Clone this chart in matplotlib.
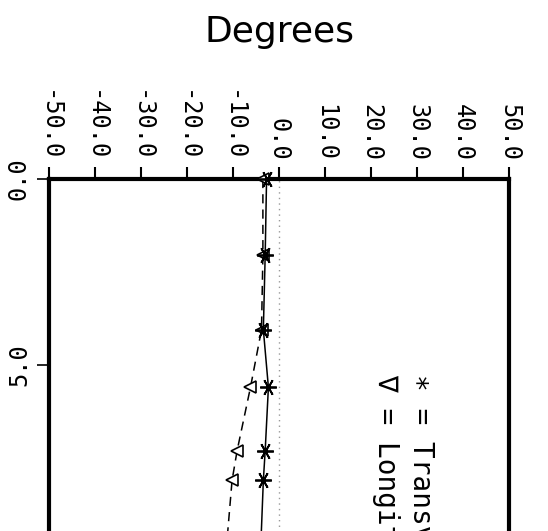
import matplotlib
matplotlib.use("Agg")
import matplotlib.pyplot as plt

# depth (plotted downward) and angle in degrees
depth = [0.0, 2.05, 4.05, 5.6, 7.3, 8.1, 10.0]
transverse = [-2.7, -3.0, -3.4, -2.3, -3.0, -3.4, -4.0]
longitudinal = [-3.5, -3.5, -3.8, -6.2, -9.1, -10.2, -11.5]

xticks = [-50, -40, -30, -20, -10, 0, 10, 20, 30, 40, 50]
xtick_labels = ["-50.0", "-40.0", "-30.0", "-20.0", "-10.0", "0.0",
                "10.0", "20.0", "30.0", "40.0", "50.0"]
yticks = [0, 5]
ytick_labels = ["0.0", "5.0"]

mono = ["DejaVu Sans Mono", "DejaVu Sans"]

fig = plt.figure(figsize=(5.48, 5.31), dpi=100)
# axes run past the bottom of the picture, like the cropped scan
ax = fig.add_axes([0.0894, -0.178, 0.8394, 0.841])

ax.axvline(0, color="#999999", lw=1.0, ls=(0, (1, 3)), zorder=1)

ax.plot(longitudinal, depth, color="black", lw=1.1, ls=(0, (6, 4)),
        marker="<", ms=8, mfc="white", mec="black", mew=1.2,
        clip_on=False, zorder=3)
ax.plot(transverse, depth, color="black", lw=1.1, ls="-",
        marker=(6, 2, 90), ms=12, mec="black", mew=1.3,
        clip_on=False, zorder=4)

ax.set_xlim(-50, 50)
ax.set_ylim(12, 0)

ax.xaxis.tick_top()
ax.set_xticks(xticks)
ax.set_xticklabels(xtick_labels, rotation=-90, family=mono, fontsize=17)
ax.set_yticks(yticks)
ax.set_yticklabels(ytick_labels, rotation=90, family=mono, fontsize=17,
                   va="center")
ax.tick_params(axis="x", direction="out", length=9, width=1.5, pad=4)
ax.tick_params(axis="y", direction="out", length=9, width=1.2, pad=4)

for side in ["left", "top", "right"]:
    ax.spines[side].set_linewidth(3)
ax.spines["bottom"].set_visible(False)

# legend written as rotated text, like the original plot
ax.text(30.9, 5.25, "\u2217 = Transverse", rotation=-90, ha="center",
        va="top", fontsize=20, family=mono)
ax.text(23.3, 5.25, "\u2207 = Longitudinal", rotation=-90, ha="center",
        va="top", fontsize=20, family=mono)

fig.text(279 / 548, 1 - 42 / 531, "Degrees", ha="center", va="baseline",
         fontsize=26, family="DejaVu Sans")

fig.savefig("out.png", dpi=100)
